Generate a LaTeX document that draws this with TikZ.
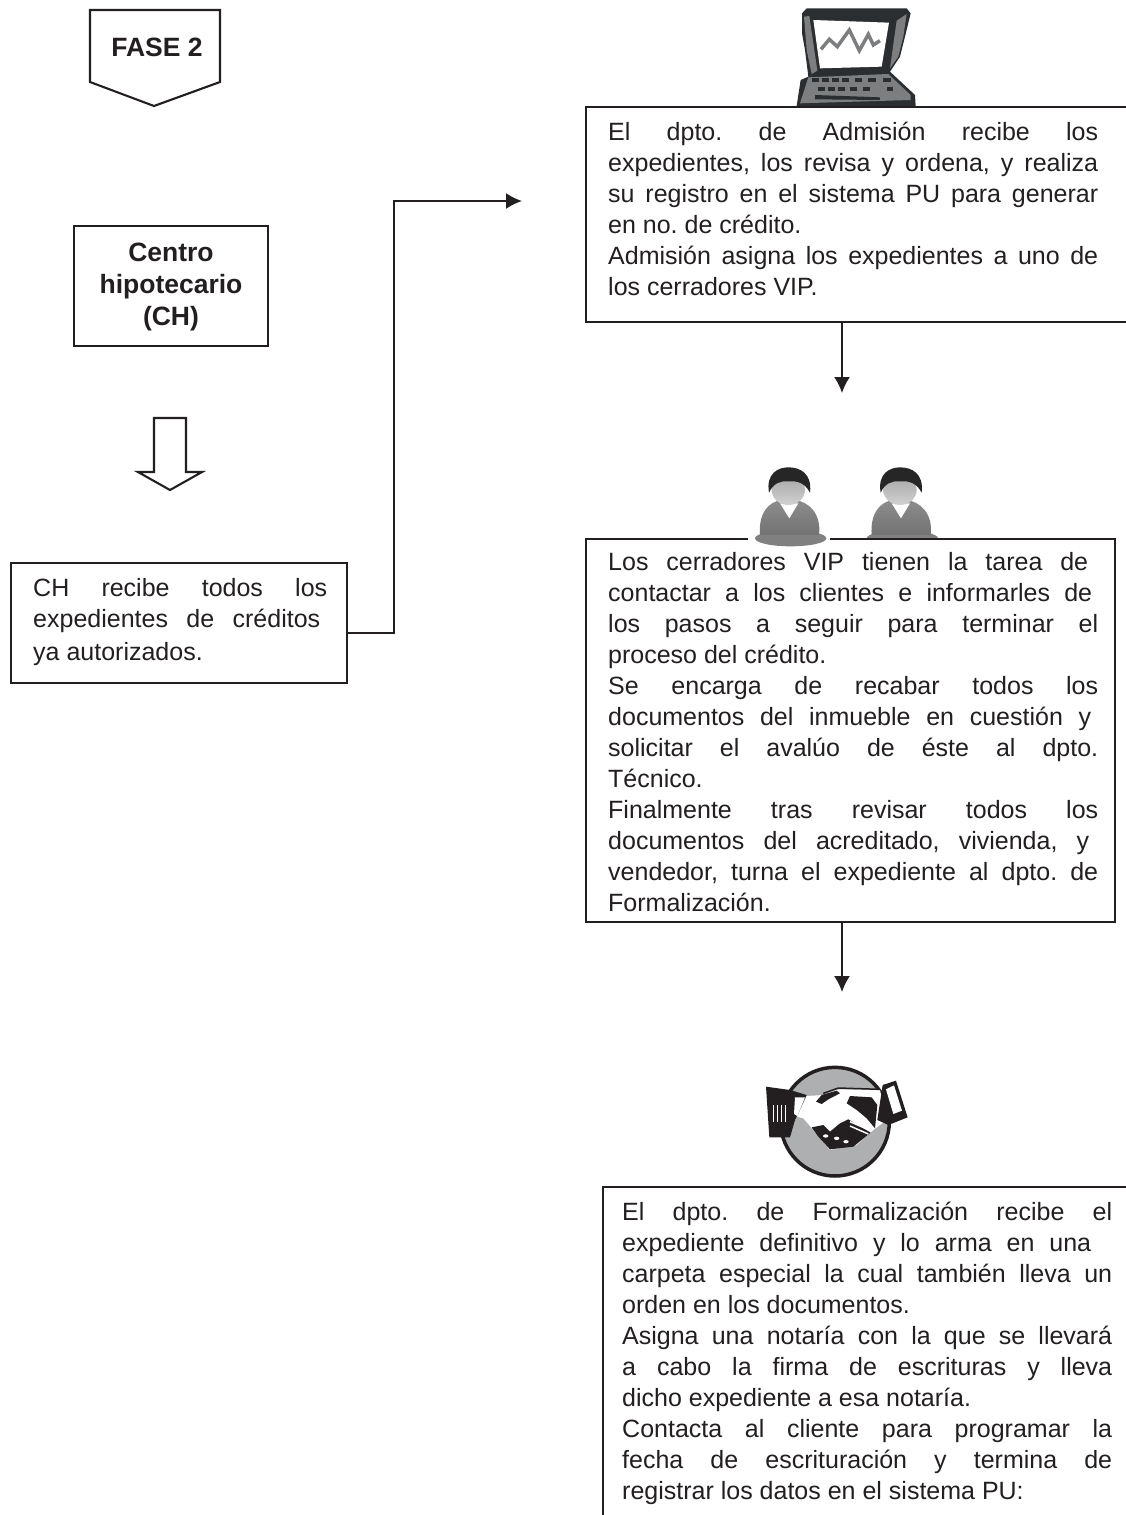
\documentclass[tikz,border=0pt]{standalone}
\usepackage{fontspec}
\setmainfont{Liberation Sans}
\usetikzlibrary{arrows.meta}
\definecolor{ink}{HTML}{231F20}
\definecolor{shell}{HTML}{2B2E30}
\definecolor{midgray}{HTML}{7C7E80}
\definecolor{discgray}{HTML}{ADAFB1}
\newcommand{\jline}[2][490pt]{\makebox[#1][s]{#2}}
\frenchspacing
\tikzset{
	box/.style={draw=ink, line width=2.1pt, anchor=north west, inner sep=0pt},
	textblock/.style={anchor=north west, inner sep=0pt, align=left, text=ink, font=\frenchspacing\fontsize{25}{31}\selectfont},
	titletext/.style={inner sep=0pt, align=center, text=ink, font=\fontsize{26.5}{32}\selectfont\bfseries},
	flowline/.style={draw=ink, line width=1.8pt, -{Latex[length=16pt,width=16pt]}},
	outline/.style={draw=ink, line width=2.1pt, line join=miter},
	icon/.style={x=0.3333pt, y=-0.3333pt}
}
\begin{document}
\begin{tikzpicture}[x=1pt, y=-1pt]
	\useasboundingbox (0,0) rectangle (1126,1515);
	\clip (0,0) rectangle (1126,1515);
	\fill [white] (0,0) rectangle (1126,1515);

	% left column
	\draw [outline] (90,10) -- (220,10) -- (220,82) -- (154,106) -- (90,82) -- cycle;
	\node (fase) [titletext] at (157,47) {FASE 2};
	\node (centro) [box, anchor=center, minimum width=194pt, minimum height=120pt] at (171,286) {};
	\node (centrotext) [titletext] at (171,287) {Centro\\hipotecario\\(CH)};
	\draw [outline] (154,418) -- (186,418) -- (186,472) -- (202,472) -- (170,490) -- (138,472) -- (154,472) -- cycle;
	\node (chbox) [box, minimum width=336pt, minimum height=120pt] at (10,562) {};
	\node (chtext) [textblock] at (33,578) {\jline[294pt]{CH recibe todos los}\\\jline[287pt]{expedientes de créditos}\\[2pt]ya autorizados.};

	\coordinate (admin) at (522,201);
	\coordinate (turn) at (394,633);
	\draw [flowline] (chbox.east |- turn) -- (turn) |- (admin);

	% laptop
	\begin{scope}[shift={(740,0)}, icon]
		\fill [shell] (186,40) -- (200,25) -- (500,25) -- (512,40) -- (495,110) -- (480,170) -- (450,215) -- (525,285) -- (527,318) -- (170,318) -- (182,240) -- (205,230) -- (195,150) -- (186,100) -- cycle;
		\fill [midgray] (192,50) -- (208,48) -- (232,212) -- (215,222) -- (200,150) -- cycle;
		\fill [midgray] (500,42) -- (470,62) -- (450,205) -- (475,170) -- (490,110) -- cycle;
		\fill [white] (220,60) -- (447,68) -- (425,200) -- (240,205) -- cycle;
		\draw [midgray, line width=3.5pt, line join=miter] (243,148) -- (268,118) -- (292,140) -- (328,90) -- (358,152) -- (385,103) -- (400,135) -- (420,122);
		\fill [midgray] (205,232) -- (445,222) -- (512,285) -- (512,300) -- (180,310) -- cycle;
		\foreach \kx in {215,245,275,305,345,385,430}
			\fill [shell] (\kx,235) rectangle ++(22,10);
		\foreach \kx in {235,265,295,330,370,440}
			\fill [shell] (\kx,262) rectangle ++(20,10);
		\fill [shell] (225,285) -- (420,292) -- (420,300) -- (225,298) -- cycle;
	\end{scope}

	% admision
	\node (admbox) [box, minimum width=560pt, minimum height=215pt] at (585,106) {};
	\node (admtext) [textblock] at (608,122) {\jline{El dpto. de Admisión recibe los}\\\jline{expedientes, los revisa y ordena, y realiza}\\\jline{su registro en el sistema PU para generar}\\en no. de crédito.\\\jline{Admisión asigna los expedientes a uno de}\\los cerradores VIP.};
	\coordinate (admdown) at (842,393);
	\draw [flowline] (admdown |- admbox.south) -- (admdown);

	% cerradores
	\node (vipbox) [box, minimum width=529pt, minimum height=383pt] at (585,538) {};
	\node (viptext) [textblock] at (608,552) {\jline[480pt]{Los cerradores VIP tienen la tarea de}\\\jline[484pt]{contactar a los clientes e informarles de}\\\jline{los pasos a seguir para terminar el}\\proceso del crédito.\\\jline{Se encarga de recabar todos los}\\\jline[483pt]{documentos del inmueble en cuestión y}\\\jline{solicitar el avalúo de éste al dpto.}\\Técnico.\\\jline{Finalmente tras revisar todos los}\\\jline[481pt]{documentos del acreditado, vivienda, y}\\\jline{vendedor, turna el expediente al dpto. de}\\Formalización.};
	\coordinate (vipdown) at (842,992);
	\draw [flowline] (vipdown |- vipbox.south) -- (vipdown);

	% personas
	\begin{scope}[shift={(720,420)}, icon]
		\fill [white] (85,140) rectangle (330,384);
		\foreach \pc/\pb in {205/384,540/352} {
			\begin{scope}
				\clip (\pc-125,130) rectangle (\pc+125,\pb);
				\fill [black!50] (\pc+7,355) ellipse (107 and 24);
				\shade [top color=black!45, bottom color=black!55] (\pc-85,345) .. controls (\pc-90,280) and (\pc-60,245) .. (\pc-20,240) -- (\pc+20,240) .. controls (\pc+60,245) and (\pc+100,280) .. (\pc+92,345) -- cycle;
				\fill [white] (\pc-25,250) -- (\pc+30,250) -- (\pc+3,295) -- cycle;
				\shade [top color=black!35, bottom color=black!18] (\pc,210) ellipse (50 and 45);
				\fill [black!85] (\pc-58,218) .. controls (\pc-68,160) and (\pc-30,142) .. (\pc,142) .. controls (\pc+35,142) and (\pc+72,160) .. (\pc+65,218) .. controls (\pc+50,190) and (\pc+30,182) .. (\pc,184) .. controls (\pc-25,182) and (\pc-45,190) .. (\pc-58,218) -- cycle;
			\end{scope}
		}
	\end{scope}

	% apreton de manos
	\begin{scope}[shift={(740,1040)}, icon]
		\draw [fill=discgray, draw=ink, line width=3.5pt] (285,245) circle (163);
		\fill [ink] (78,140) -- (150,150) -- (200,165) -- (165,240) -- (150,292) -- (88,292) -- cycle;
		\fill [white] (165,172) -- (195,172) -- (172,228) -- (162,222) -- cycle;
		\foreach \sx in {100,112,124,136}
			\draw [white, line width=1.2pt] (\sx,195) -- (\sx,245);
		\fill [white] (200,168) -- (250,165) -- (295,148) -- (420,150) -- (440,240) -- (400,270) -- (350,315) -- (270,330) -- (220,270) -- (190,235) -- (172,230) -- cycle;
		\draw [ink, line width=1.5pt] (250,160) -- (295,144) -- (420,148);
		\fill [ink] (228,185) -- (245,165) -- (290,152) -- (300,160) -- (265,178) -- (245,192) -- cycle;
		\fill [ink] (330,168) -- (395,172) -- (412,195) -- (405,265) -- (380,235) -- (350,210) -- (320,190) -- cycle;
		\fill [ink] (215,262) -- (250,255) -- (270,275) -- (300,250) -- (325,238) -- (392,278) -- (340,320) -- (270,328) -- (235,290) -- cycle;
		\foreach \fx/\fy in {257/288,290/295,318/305}
			\fill [white] (\fx,\fy) ellipse (8 and 5);
		\foreach \wy in {245,258}
			\draw [white, line width=1.5pt] (330,\wy) -- (385,\wy+24);
		\fill [ink] (428,135) -- (468,122) -- (503,232) -- (445,255) -- (412,240) -- cycle;
		\fill [white] (438,148) -- (462,136) -- (486,212) -- (460,222) -- cycle;
	\end{scope}

	% formalizacion
	\node (formbox) [box, minimum width=560pt, minimum height=400pt] at (602,1186) {};
	\node (formtext) [textblock] at (622,1201.5) {\jline{El dpto. de Formalización recibe el}\\\jline[469pt]{expediente definitivo y lo arma en una}\\\jline{carpeta especial la cual también lleva un}\\orden en los documentos.\\\jline{Asigna una notaría con la que se llevará}\\\jline{a cabo la firma de escrituras y lleva}\\dicho expediente a esa notaría.\\\jline{Contacta al cliente para programar la}\\\jline{fecha de escrituración y termina de}\\registrar los datos en el sistema PU:};
\end{tikzpicture}
\end{document}
